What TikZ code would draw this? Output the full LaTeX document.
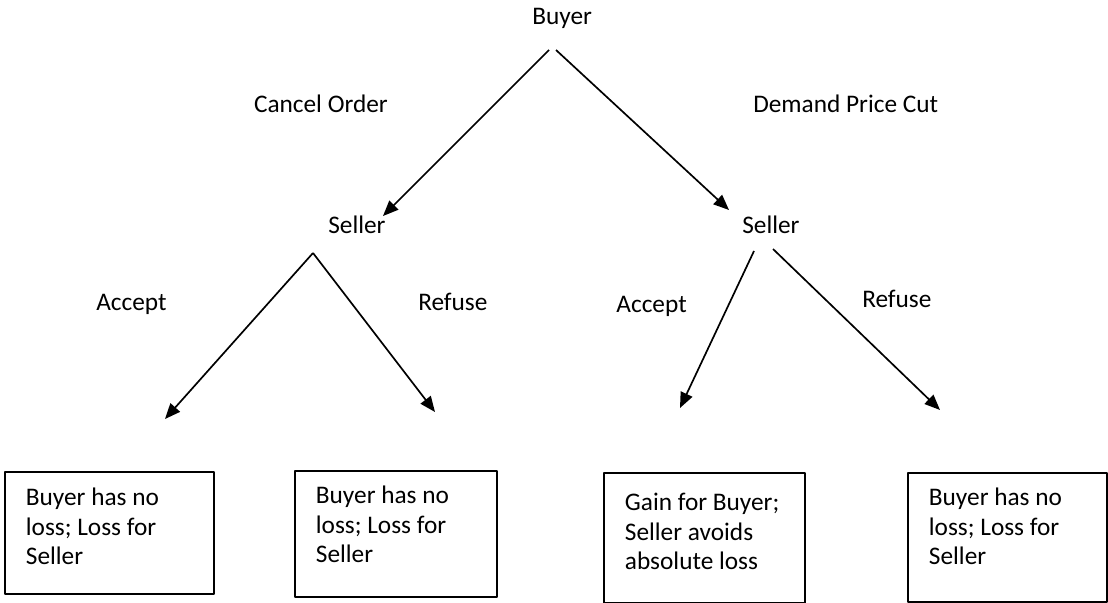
\documentclass[tikz,border=0pt]{standalone}
\usepackage{fontspec}
\setmainfont{Carlito}
\usetikzlibrary{arrows.meta}
\newdimen\pxu \pxu=0.71131pt

\begin{document}
\begin{tikzpicture}[x=0.025cm,y=-0.025cm,line join=round,>={Triangle[length=11pt,width=9pt]}]
	\tikzset{every node/.style={font=\fontsize{18}{21}\selectfont,inner sep=0pt},
		lbl/.style={anchor=base west},
		outcome/.style={draw,line width=1.3pt,anchor=north west,align=flush left,inner xsep=21\pxu,inner ysep=0pt},
		move/.style={->,line width=1.2pt}}
	\useasboundingbox (0,0) rectangle (1108,603);
	% players
	\node[lbl] (buyer) at (532,25) {Buyer};
	\node[lbl] (sellerL) at (328,234) {Seller};
	\node[lbl] (sellerR) at (742,234) {Seller};
	% moves
	\node[anchor=base east] (cancel) at (388,113) {Cancel Order};
	\node[lbl] (demand) at (753,113) {Demand Price Cut};
	\node[lbl] (acceptL) at (96,310) {Accept};
	\node[lbl] (refuseL) at (418,310) {Refuse};
	\node[anchor=base east] (acceptR) at (687,312) {Accept};
	\node[lbl] (refuseR) at (862,307) {Refuse};
	% payoffs
	\node[outcome,text width=167\pxu,text height=34\pxu,text depth=88\pxu] (outA) at (4,471)
		{Buyer has no\\loss; Loss for\\Seller};
	\node[outcome,text width=160\pxu,text height=33\pxu,text depth=93\pxu] (outB) at (294,470)
		{Buyer has no\\loss; Loss for\\Seller};
	\node[outcome,text width=159\pxu,text height=38\pxu,text depth=92\pxu] (outC) at (603,472)
		{Gain for Buyer;\\Seller avoids\\absolute loss};
	\node[outcome,text width=157\pxu,text height=33\pxu,text depth=96\pxu] (outD) at (907,472)
		{Buyer has no\\loss; Loss for\\Seller};
	% branch ends
	\coordinate (b1) at (549,50);
	\coordinate (b2) at (556,50);
	\coordinate (s1) at (383,216);
	\coordinate (s2) at (729,210);
	\coordinate (sL) at (313,253);
	\coordinate (sR1) at (754,251);
	\coordinate (sR2) at (773,249);
	\coordinate (tA) at (165,419);
	\coordinate (tB) at (435,412);
	\coordinate (tC) at (680,408);
	\coordinate (tD) at (940,410);
	\draw[move] (b1)--(s1);
	\draw[move] (b2)--(s2);
	\draw[move] (sL)--(tA);
	\draw[move] (sL)--(tB);
	\draw[move] (sR1)--(tC);
	\draw[move] (sR2)--(tD);
\end{tikzpicture}
\end{document}
